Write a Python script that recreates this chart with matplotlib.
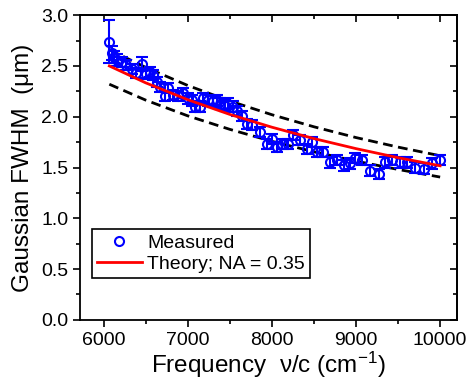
import matplotlib
matplotlib.use("Agg")
import matplotlib.pyplot as plt
from matplotlib.lines import Line2D

plt.rcParams['font.family'] = ['Liberation Sans', 'DejaVu Sans']
plt.rcParams['mathtext.fontset'] = 'custom'
plt.rcParams['mathtext.rm'] = 'Liberation Sans'
plt.rcParams['mathtext.it'] = 'Liberation Sans'

# Measured Gaussian FWHM versus frequency
freq = [6069, 6097, 6124, 6164, 6216, 6267, 6335, 6386, 6453, 6505,
        6553, 6592, 6632, 6672, 6731, 6771, 6830, 6890, 6949, 7009,
        7048, 7088, 7147, 7187, 7246, 7306, 7345, 7385, 7444, 7484,
        7544, 7583, 7643, 7702, 7762, 7861, 7940, 8000, 8059, 8118,
        8198, 8257, 8336, 8416, 8475, 8535, 8614, 8693, 8772, 8852,
        8931, 8990, 9070, 9169, 9268, 9347, 9426, 9526, 9605, 9704,
        9803, 9902, 10001]
fwhm = [2.74, 2.63, 2.59, 2.56, 2.54, 2.51, 2.47, 2.43, 2.52, 2.42,
        2.44, 2.41, 2.34, 2.29, 2.20, 2.28, 2.21, 2.20, 2.23, 2.18,
        2.16, 2.10, 2.10, 2.18, 2.16, 2.15, 2.16, 2.13, 2.11, 2.13,
        2.10, 2.06, 2.01, 1.93, 1.92, 1.85, 1.73, 1.78, 1.70, 1.73,
        1.73, 1.82, 1.77, 1.68, 1.75, 1.65, 1.65, 1.55, 1.57, 1.52,
        1.54, 1.59, 1.57, 1.47, 1.44, 1.55, 1.57, 1.55, 1.55, 1.50,
        1.49, 1.54, 1.57]
fwhm_err = [0.21, 0.07, 0.06, 0.06, 0.05, 0.05, 0.05, 0.05, 0.07, 0.05,
            0.05, 0.05, 0.05, 0.05, 0.05, 0.05, 0.05, 0.05, 0.05, 0.05,
            0.05, 0.05, 0.05, 0.05, 0.05, 0.05, 0.05, 0.05, 0.05, 0.05,
            0.05, 0.05, 0.05, 0.05, 0.05, 0.05, 0.05, 0.05, 0.05, 0.05,
            0.05, 0.05, 0.05, 0.05, 0.05, 0.05, 0.05, 0.05, 0.05, 0.05,
            0.05, 0.05, 0.05, 0.05, 0.05, 0.05, 0.05, 0.05, 0.05, 0.05,
            0.05, 0.05, 0.05]

# Theory curve and its bounds
theory_freq = [6069, 6500, 7000, 7500, 8000, 8500, 9000, 9500, 10000]
theory_fwhm = [2.50, 2.334, 2.168, 2.023, 1.897, 1.785, 1.686, 1.597, 1.517]
upper_fwhm = [2.66, 2.486, 2.308, 2.155, 2.020, 1.901, 1.795, 1.701, 1.616]
lower_fwhm = [2.32, 2.164, 2.009, 1.876, 1.758, 1.655, 1.563, 1.481, 1.406]

x_ticks = [6000, 7000, 8000, 9000, 10000]
x_minor = [6500, 7500, 8500, 9500]
y_ticks = [0.0, 0.5, 1.0, 1.5, 2.0, 2.5, 3.0]
y_minor = [0.25, 0.75, 1.25, 1.75, 2.25, 2.75]

fig = plt.figure(figsize=(4.76, 3.79), dpi=100)
ax = fig.add_axes([0.168, 0.156, 0.792, 0.804])

ax.plot(theory_freq, upper_fwhm, color='black', lw=2.0, dashes=(3.5, 2), zorder=2)
ax.plot(theory_freq, lower_fwhm, color='black', lw=2.0, dashes=(3.5, 2), zorder=2)
ax.errorbar(freq, fwhm, yerr=fwhm_err, fmt='o', color='#0000ff', mfc='none',
            mec='#0000ff', ms=6.5, mew=1.5, elinewidth=1.5, capsize=4,
            capthick=1.5, zorder=3)
ax.plot(theory_freq, theory_fwhm, color='#ff0000', lw=2.0, zorder=4)

ax.set_xlim(5720, 10200)
ax.set_ylim(0.0, 3.0)
ax.set_xticks(x_ticks)
ax.set_yticks(y_ticks)
ax.set_xticks(x_minor, minor=True)
ax.set_yticks(y_minor, minor=True)
ax.yaxis.set_major_formatter(matplotlib.ticker.FormatStrFormatter('%.1f'))

for s in ax.spines.values():
    s.set_linewidth(1.3)

ax.tick_params(axis='both', which='major', labelsize=14, length=5, width=1.2,
               direction='out', top=False, right=False)
ax.tick_params(axis='both', which='minor', length=3, width=1.2,
               direction='out', top=False, right=False)

# Mirrored inward ticks on the top and right edges
ax_top = ax.secondary_xaxis('top')
ax_top.set_xticks(x_ticks)
ax_top.set_xticks(x_minor, minor=True)
ax_top.tick_params(which='major', direction='in', length=5, width=1.2)
ax_top.tick_params(which='minor', direction='in', length=3, width=1.2)
ax_top.set_xticklabels([])
ax_right = ax.secondary_yaxis('right')
ax_right.set_yticks(y_ticks)
ax_right.set_yticks(y_minor, minor=True)
ax_right.tick_params(which='major', direction='in', length=5, width=1.2)
ax_right.tick_params(which='minor', direction='in', length=3, width=1.2)
ax_right.set_yticklabels([])
ax_top.spines['top'].set_linewidth(1.3)
ax_right.spines['right'].set_linewidth(1.3)

ax.set_xlabel('Frequency  ν/c (cm$^{-1}$)', fontsize=17.5, labelpad=1)
ax.set_ylabel('Gaussian FWHM  (μm)', fontsize=17.5, labelpad=5)

handles = [
    Line2D([], [], marker='o', ls='none', mfc='none', mec='#0000ff', mew=1.5, ms=6.5),
    Line2D([], [], color='#ff0000', lw=2.0),
]
leg = ax.legend(handles, ['Measured', 'Theory; NA = 0.35'], loc='upper left',
                bbox_to_anchor=(0.032, 0.298), borderaxespad=0, fontsize=14,
                fancybox=False, framealpha=1, edgecolor='black',
                handlelength=2.3, handletextpad=0.3, borderpad=0.25,
                labelspacing=0.2)
leg.get_frame().set_linewidth(1.2)

fig.savefig('out.png', dpi=100)
